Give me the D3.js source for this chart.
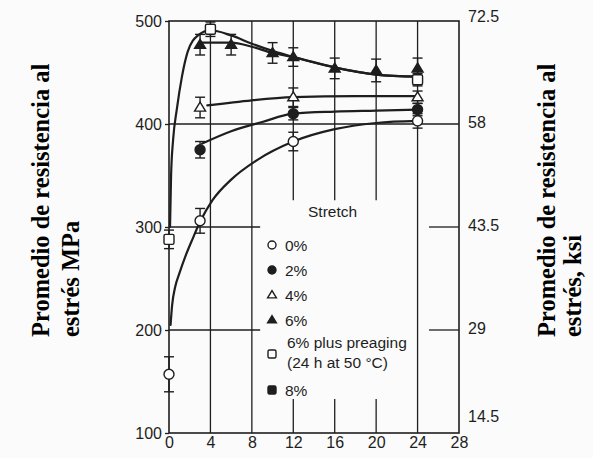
<!DOCTYPE html>
<html>
<head>
<meta charset="utf-8">
<script src="https://cdn.jsdelivr.net/npm/d3@7"></script>
<style>
  html, body { margin: 0; padding: 0; background: #fbfbfb; }
  svg { display: block; }
</style>
</head>
<body>
<svg id="chart" width="593" height="458"></svg>
<script>
// ---------- data ----------
const xTicks = [0, 4, 8, 12, 16, 20, 24, 28];
const yTicksMPa = [100, 200, 300, 400, 500];
const yTicksKsi = ["14.5", "29", "43.5", "58", "72.5"];

// measured points: [time h, MPa, error half-width]
const pts0 = [[0, 157, 17], [3, 306, 12], [12, 383, 9], [24, 403, 7]];
const pts2 = [[3, 375, 8], [12, 410, 6], [24, 414, 6]];
const pts4 = [[3, 416, 10], [12, 426, 9], [24, 426, 6]];
const pts6 = [[3, 477, 10], [6, 477, 10], [10, 469, 10], [12, 465, 9], [16, 454, 10], [20, 452, 11], [24, 454, 10]];
const ptsPre = [[0, 288, 9], [4, 492, 7], [24, 443, 6]];

// fitted curves: [time h, MPa]
const curve0 = [[0.15, 205], [0.3, 224], [0.6, 242], [1, 255], [1.6, 272], [2.3, 289], [3, 305], [4.2, 326], [6, 346], [8.5, 365], [12, 383], [16, 395], [20, 401], [24, 403]];
const curve2 = [[3.2, 381], [6, 393], [9, 402], [12, 410], [16, 412], [20, 413], [24, 414]];
const curve4 = [[3.7, 418], [8, 423], [12, 426], [18, 427], [24, 427]];
const curve6 = [[3.2, 479], [6, 479], [8, 475], [10, 469], [12, 465], [16, 455], [20, 448], [24, 446]];
const curvePre = [[0.1, 300], [0.2, 350], [0.4, 385], [0.75, 414], [1.25, 446], [1.8, 470], [2.8, 486], [4, 491], [6, 486], [8, 478], [10, 471], [12, 465], [16, 455], [20, 448], [24, 446]];

const legendLabels = ["0%", "2%", "4%", "6%", "6% plus preaging|(24 h at 50 °C)", "8%"];
const legendSymbols = ["openCircle", "filledCircle", "openTriangle", "filledTriangle", "openSquare", "filledSquare"];

// ---------- layout ----------
const svg = d3.select("#chart");
const ink = "#1e1e1e";
const x = d3.scaleLinear().domain([0, 28]).range([169, 459]);
const y = d3.scaleLinear().domain([100, 500]).range([433, 21]);
const sans = "'Liberation Sans', Arial, Helvetica, sans-serif";

// grid lines
const g = svg.append("g").attr("stroke", ink).attr("stroke-width", 1.3).attr("fill", "none");
[4, 8, 24].forEach(v => g.append("line").attr("x1", x(v)).attr("x2", x(v)).attr("y1", y(500)).attr("y2", y(100)));
[12, 16, 20].forEach(v => {
  g.append("line").attr("x1", x(v)).attr("x2", x(v)).attr("y1", y(500)).attr("y2", y(326));
  g.append("line").attr("x1", x(v)).attr("x2", x(v)).attr("y1", y(133)).attr("y2", y(100));
});
g.append("line").attr("x1", x(0)).attr("x2", x(28)).attr("y1", y(400)).attr("y2", y(400));
[300, 200].forEach(v => {
  g.append("line").attr("x1", x(0)).attr("x2", x(8.8)).attr("y1", y(v)).attr("y2", y(v));
  g.append("line").attr("x1", x(25.1)).attr("x2", x(28)).attr("y1", y(v)).attr("y2", y(v));
});
// frame
svg.append("rect").attr("x", x(0)).attr("y", y(500)).attr("width", x(28) - x(0)).attr("height", y(100) - y(500))
  .attr("fill", "none").attr("stroke", ink).attr("stroke-width", 1.6);

// axes
const axL = svg.append("g").attr("transform", `translate(${x(0)},0)`)
  .call(d3.axisLeft(y).tickValues(yTicksMPa).tickSize(4).tickPadding(3));
const axR = svg.append("g").attr("transform", `translate(${x(28)},0)`)
  .call(d3.axisRight(y).tickValues(yTicksMPa).tickSize(0).tickPadding(9).tickFormat((d, i) => yTicksKsi[i]));
const axB = svg.append("g").attr("transform", `translate(0,${y(100)})`)
  .call(d3.axisBottom(x).tickValues(xTicks).tickSize(0).tickPadding(4));
[axL, axR, axB].forEach(a => {
  a.select(".domain").remove();
  a.selectAll("line").attr("stroke", ink).attr("stroke-width", 1.3);
  a.selectAll("text").attr("font-family", sans).attr("font-size", 16).attr("fill", ink);
});
axR.selectAll("text").attr("dy", (d) => d === 100 ? "-0.7em" : (d === 500 ? "0.05em" : "0.2em"));
axB.selectAll("text").attr("dy", "0.7em");

// curves
const line = d3.line().x(d => x(d[0])).y(d => y(d[1])).curve(d3.curveMonotoneX);
const cg = svg.append("g").attr("fill", "none").attr("stroke", ink).attr("stroke-width", 2.2)
  .attr("stroke-linejoin", "round").attr("stroke-linecap", "round");
[curve0, curve2, curve4, curve6, curvePre].forEach(c => cg.append("path").attr("d", line(c)));

// symbols
function drawSymbol(sel, type, cx, cy, s) {
  const filled = type.startsWith("filled");
  const fill = filled ? ink : "#fff";
  let el;
  if (type.endsWith("Circle")) {
    el = sel.append("circle").attr("cx", cx).attr("cy", cy).attr("r", s * 0.5);
  } else if (type.endsWith("Triangle")) {
    const h = s * 0.9;
    el = sel.append("path").attr("d", `M${cx},${cy - h * 0.6}L${cx + s * 0.55},${cy + h * 0.4}L${cx - s * 0.55},${cy + h * 0.4}Z`);
  } else {
    el = sel.append("rect").attr("x", cx - s * 0.5).attr("y", cy - s * 0.5).attr("width", s).attr("height", s).attr("rx", 1.5);
  }
  el.attr("fill", fill).attr("stroke", ink).attr("stroke-width", 1.4);
}

// error bars + markers
const eg = svg.append("g").attr("stroke", ink).attr("stroke-width", 1.4);
const series = [[pts0, "openCircle"], [pts2, "filledCircle"], [pts4, "openTriangle"], [pts6, "filledTriangle"], [ptsPre, "openSquare"]];
series.forEach(([pts]) => pts.forEach(p => {
  const cx = x(p[0]);
  eg.append("line").attr("x1", cx).attr("x2", cx).attr("y1", y(p[1] + p[2])).attr("y2", y(p[1] - p[2]));
  [p[1] + p[2], p[1] - p[2]].forEach(v =>
    eg.append("line").attr("x1", cx - 5).attr("x2", cx + 5).attr("y1", y(v)).attr("y2", y(v)));
}));
const mg = svg.append("g");
series.forEach(([pts, sym]) => pts.forEach(p => drawSymbol(mg, sym, x(p[0]), y(p[1]), 10)));

// legend
const lg = svg.append("g").attr("font-family", sans).attr("fill", ink);
lg.append("text").attr("x", 308).attr("y", 217).attr("font-size", 15.5).text("Stretch");
const rowY = [245, 270, 295, 320, 354, 390];
legendLabels.forEach((lab, i) => {
  drawSymbol(lg, legendSymbols[i], 272, rowY[i], 8);
  const parts = lab.split("|");
  if (parts.length === 1) {
    lg.append("text").attr("x", 285).attr("y", rowY[i] + 5.5).attr("font-size", 15.5).text(parts[0]);
  } else {
    lg.append("text").attr("x", 287).attr("y", rowY[i] - 6).attr("font-size", 15.5).text(parts[0]);
    lg.append("text").attr("x", 287).attr("y", rowY[i] + 14).attr("font-size", 15.5).text(parts[1]);
  }
});

// axis titles
const serif = "'Liberation Serif', 'Times New Roman', serif";
function vtitle(cx1, cx2, lines) {
  const t = svg.append("g").attr("font-family", serif).attr("font-weight", "bold").attr("font-size", 24.5).attr("fill", "#000");
  [cx1, cx2].forEach((cx, i) => {
    t.append("text").attr("transform", `translate(${cx},337) rotate(-90)`).attr("text-anchor", "start").text(lines[i]);
  });
}
vtitle(49, 79, ["Promedio de resistencia al", "estrés MPa"]);
vtitle(555, 581, ["Promedio de resistencia al", "estrés, ksi"]);
</script>
</body>
</html>
